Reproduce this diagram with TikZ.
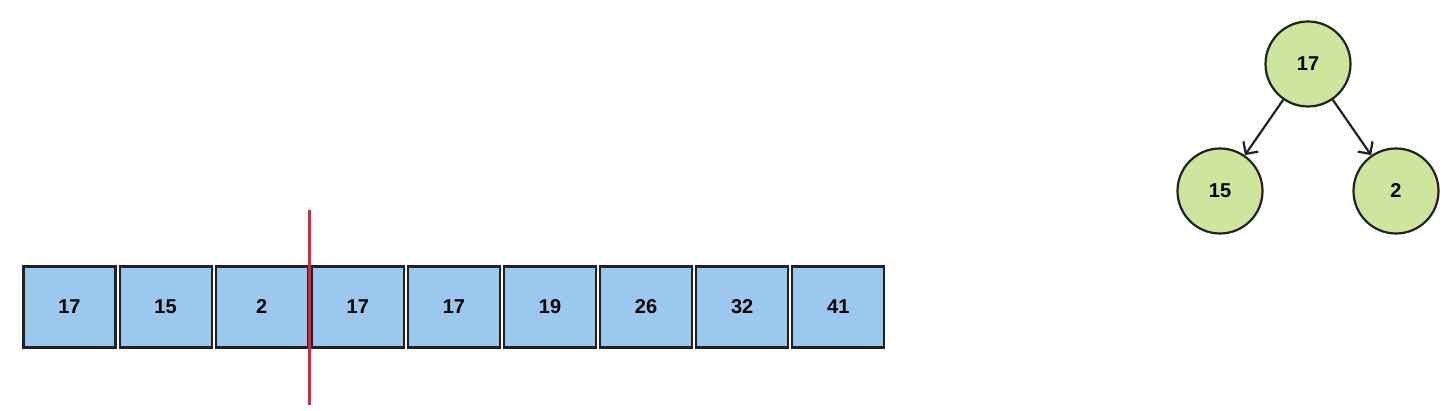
\documentclass[tikz,border=0pt]{standalone}
\usepackage{fontspec}
\setmainfont{Liberation Sans}
\usetikzlibrary{arrows.meta}
\definecolor{cellblue}{HTML}{9AC8EE}
\definecolor{nodegreen}{HTML}{CDE59D}
\definecolor{edgedark}{HTML}{222222}
\definecolor{cutred}{HTML}{E2213C}
\tikzset{
  cell/.style={draw=edgedark, line width=2.2pt, fill=cellblue, minimum width=92pt, minimum height=81pt, inner sep=0pt, font=\fontsize{20}{23}\selectfont\bfseries, anchor=center},
  treenode/.style={circle, draw=edgedark, line width=2.2pt, fill=nodegreen, minimum size=85pt, inner sep=0pt, font=\fontsize{20}{23}\selectfont\bfseries},
  treeedge/.style={draw=edgedark, line width=2.2pt, -{Straight Barb[length=9pt, width=18pt, line width=2.2pt]}},
  cutline/.style={draw=cutred, line width=2.4pt}
}
\begin{document}
\begin{tikzpicture}[x=1pt, y=-1pt]
\useasboundingbox (0,0) rectangle (1445,411);
\foreach \v [count=\i] in {17,15,2,17,17,19,26,32,41} {
  \node[cell] (c\i) at ({69.5+96.1*(\i-1)}, 307) {\v};
}
\coordinate (cuttop) at (309.5,210);
\coordinate (cutbot) at (309.5,405);
\draw[cutline] (cuttop) -- (cutbot);
\node[treenode] (r) at (1308,64) {17};
\node[treenode] (l) at (1220,191) {15};
\node[treenode] (rr) at (1396,191) {2};
\draw[treeedge] (r) -- (l);
\draw[treeedge] (r) -- (rr);
\end{tikzpicture}
\end{document}
